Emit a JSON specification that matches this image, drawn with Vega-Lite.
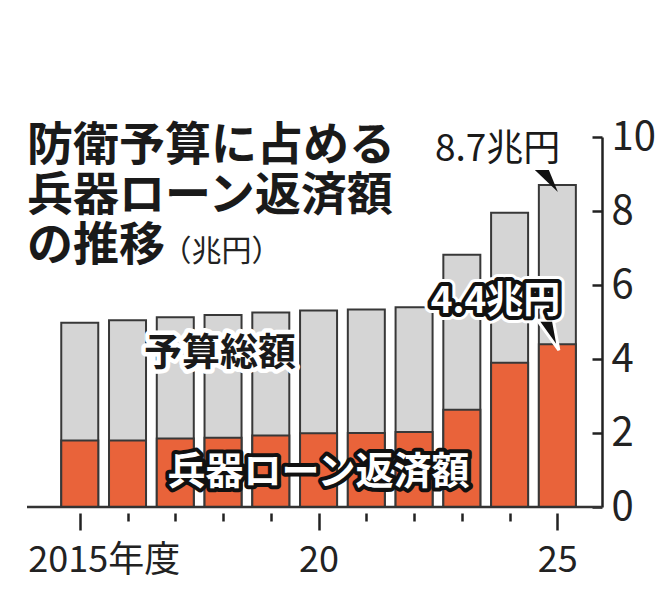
{
  "$schema": "https://vega.github.io/schema/vega-lite/v6.json",
  "width": 575,
  "height": 370,
  "autosize": {"type": "none"},
  "padding": {"left": 27, "top": 137, "right": 64, "bottom": 107},
  "background": "white",
  "config": {"view": {"stroke": null}, "font": "Noto Sans CJK JP"},
  "title": {
    "text": ["防衛予算に占める", "兵器ローン返済額", "の推移"],
    "anchor": "start",
    "frame": "group",
    "orient": "top",
    "baseline": "top",
    "offset": -153,
    "fontSize": 46,
    "lineHeight": 50,
    "fontWeight": "bold",
    "color": "#1a1a1a"
  },
  "data": {
    "values": [
      {"year": 2015, "total": 4.98, "loan": 1.8},
      {"year": 2016, "total": 5.05, "loan": 1.8},
      {"year": 2017, "total": 5.13, "loan": 1.85},
      {"year": 2018, "total": 5.19, "loan": 1.87},
      {"year": 2019, "total": 5.26, "loan": 1.93},
      {"year": 2020, "total": 5.31, "loan": 1.99},
      {"year": 2021, "total": 5.34, "loan": 2.0},
      {"year": 2022, "total": 5.4, "loan": 2.03},
      {"year": 2023, "total": 6.82, "loan": 2.63},
      {"year": 2024, "total": 7.95, "loan": 3.9},
      {"year": 2025, "total": 8.7, "loan": 4.4}
    ]
  },
  "layer": [
    {
      "mark": {"type": "bar", "width": 37, "fill": "#d5d5d5", "stroke": "#383838", "strokeWidth": 2},
      "encoding": {
        "x": {
          "field": "year", "type": "quantitative",
          "scale": {"domain": [2014, 2025.83], "nice": false, "zero": false},
          "title": null,
          "axis": {
            "values": [2015, 2016, 2017, 2018, 2019, 2020, 2021, 2022, 2023, 2024, 2025],
            "grid": false,
            "domain": false,
            "offset": 6,
            "tickColor": "#222",
            "tickWidth": 2.5,
            "tickSize": {"condition": {"test": "datum.value % 5 === 0", "value": 17}, "value": 8},
            "labelExpr": "datum.value == 2015 ? '2015年度' : datum.value == 2020 ? '20' : datum.value == 2025 ? '25' : ''",
            "labelFontSize": 36,
            "labelColor": "#222",
            "labelPadding": 13,
            "labelOverlap": false,
            "labelBound": false,
            "labelFlush": false,
            "labelAlign": {"condition": {"test": "datum.value == 2015", "value": "left"}, "value": "center"},
            "labelOffset": {"condition": {"test": "datum.value == 2015", "value": -52}, "value": 0}
          }
        },
        "y": {
          "field": "total", "type": "quantitative",
          "scale": {"domain": [0, 10], "nice": false},
          "title": "（兆円）",
          "axis": {
            "orient": "right",
            "values": [0, 2, 4, 6, 8, 10],
            "grid": false,
            "domainColor": "#222",
            "domainWidth": 2.5,
            "tickColor": "#222",
            "tickWidth": 2.5,
            "tickSize": -10,
            "labelPadding": 19,
            "labelFontSize": 40,
            "labelColor": "#222",
            "labelBaseline": "middle",
            "labelAlign": "left",
            "titleAngle": 0,
            "titleX": -441,
            "titleY": 114,
            "titleAlign": "left",
            "titleBaseline": "middle",
            "titleFontSize": 30,
            "titleFontWeight": "normal",
            "titleColor": "#222"
          }
        }
      }
    },
    {
      "mark": {"type": "bar", "width": 37, "fill": "#e9633a", "stroke": "#383838", "strokeWidth": 2},
      "encoding": {
        "x": {"field": "year", "type": "quantitative"},
        "y": {"field": "loan", "type": "quantitative"}
      }
    },
    {
      "data": {"values": [{}]},
      "mark": {"type": "rule", "color": "#333", "strokeWidth": 2.5},
      "encoding": {"y": {"datum": 0, "type": "quantitative"}}
    },
    {
      "data": {"values": [{"year": 2018, "value": 5.19, "label": "予算総額"}]},
      "layer": [
        {"mark": {"type": "text", "fontSize": 38, "fontWeight": "bold", "stroke": "white", "strokeWidth": 9, "strokeJoin": "round", "fill": "white", "dy": 39, "dx": -3, "baseline": "middle", "align": "center"}},
        {"mark": {"type": "text", "fontSize": 38, "fontWeight": "bold", "fill": "#1a1a1a", "dy": 39, "dx": -3, "baseline": "middle", "align": "center"}}
      ],
      "encoding": {
        "x": {"field": "year", "type": "quantitative"},
        "y": {"field": "value", "type": "quantitative"},
        "text": {"field": "label"}
      }
    },
    {
      "data": {"values": [{"year": 2020, "value": 0, "label": "兵器ローン返済額"}]},
      "layer": [
        {"mark": {"type": "text", "fontSize": 38, "fontWeight": "bold", "stroke": "#111", "strokeWidth": 8, "strokeJoin": "round", "fill": "#111", "dy": -34, "baseline": "middle", "align": "center"}},
        {"mark": {"type": "text", "fontSize": 38, "fontWeight": "bold", "fill": "white", "dy": -34, "baseline": "middle", "align": "center"}}
      ],
      "encoding": {
        "x": {"field": "year", "type": "quantitative"},
        "y": {"field": "value", "type": "quantitative"},
        "text": {"field": "label"}
      }
    },
    {
      "data": {"values": [{"year": 2025, "value": 8.7, "label": "8.7兆円"}]},
      "layer": [
        {"mark": {"type": "text", "fontSize": 37, "fill": "#1a1a1a", "dx": 3, "dy": -35, "baseline": "middle", "align": "right"}},
        {"mark": {"type": "point", "shape": "M-0.9,-0.6L-0.34,-0.6L0.02,0.28Z", "size": 2500, "filled": true, "color": "#111", "opacity": 1}}
      ],
      "encoding": {
        "x": {"field": "year", "type": "quantitative"},
        "y": {"field": "value", "type": "quantitative"},
        "text": {"field": "label"}
      }
    },
    {
      "data": {"values": [{"year": 2025, "value": 4.4, "label": "4.4兆円"}]},
      "layer": [
        {"mark": {"type": "text", "fontSize": 37, "fontWeight": "bold", "stroke": "white", "strokeWidth": 14, "strokeJoin": "round", "fill": "white", "dx": 3, "dy": -42, "baseline": "middle", "align": "right"}},
        {"mark": {"type": "point", "shape": "M-0.8,-0.96L-0.16,-0.96L0.06,0.24Z", "size": 2500, "filled": true, "fill": "#111", "stroke": "white", "strokeWidth": 3, "opacity": 1}},
        {"mark": {"type": "text", "fontSize": 37, "fontWeight": "bold", "stroke": "#111", "strokeWidth": 8, "strokeJoin": "round", "fill": "#111", "dx": 3, "dy": -42, "baseline": "middle", "align": "right"}},
        {"mark": {"type": "text", "fontSize": 37, "fontWeight": "bold", "fill": "white", "dx": 3, "dy": -42, "baseline": "middle", "align": "right"}}
      ],
      "encoding": {
        "x": {"field": "year", "type": "quantitative"},
        "y": {"field": "value", "type": "quantitative"},
        "text": {"field": "label"}
      }
    }
  ]
}
